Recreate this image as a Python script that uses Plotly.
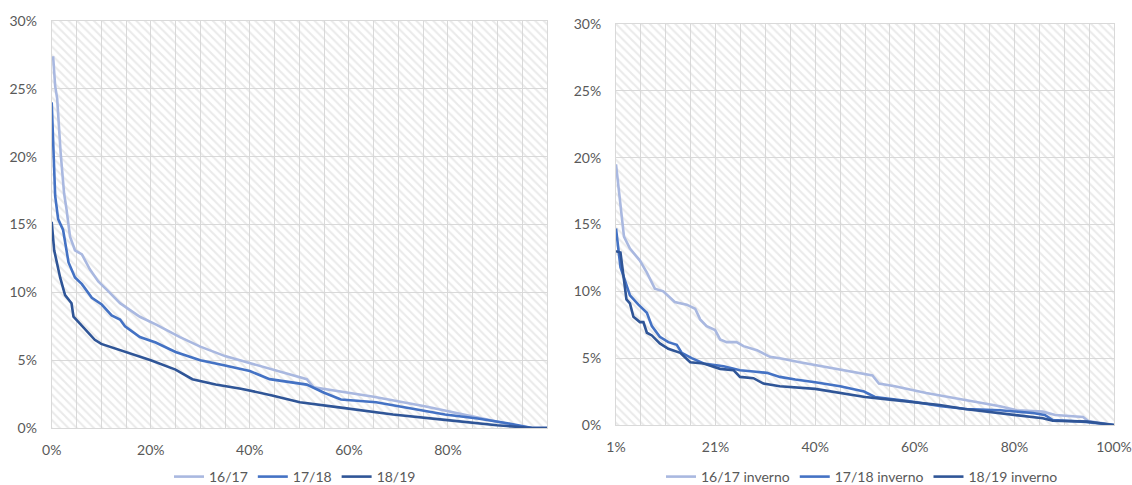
import plotly.graph_objects as go

# ---- Left panel: annual duration curves (x = share of time, y = value, both in %) ----
left_x_1617 = [0, 0.3, 0.7, 1.1, 1.8, 2.5, 3.0, 3.7, 4.7, 6.1, 7.7, 9.4, 11.1, 13.8, 17.8, 21.2,
               25.9, 30, 35, 40, 45, 51.5, 52.9, 58.4, 65, 75.3, 82.9, 88, 93.4, 97, 100]
left_y_1617 = [27.3, 27.3, 25.2, 24.3, 20.3, 17.3, 16.1, 14.1, 13.1, 12.8, 11.7, 10.8, 10.2, 9.2, 8.2, 7.6,
               6.7, 6.0, 5.3, 4.8, 4.3, 3.6, 3.0, 2.7, 2.3, 1.6, 1.0, 0.6, 0.2, 0, 0]

left_x_1718 = [0, 0.3, 0.7, 1.3, 2.3, 3.4, 4.7, 6.1, 8.1, 10.1, 12.1, 13.8, 14.8, 17.8, 21, 25, 30, 35,
               40, 44, 51.5, 55, 58.4, 65.5, 72, 79.4, 86, 92, 97, 100]
left_y_1718 = [24.0, 20.8, 17.1, 15.4, 14.6, 12.2, 11.1, 10.6, 9.6, 9.1, 8.3, 8.0, 7.5, 6.7, 6.3, 5.6, 5.0, 4.6,
               4.2, 3.6, 3.2, 2.6, 2.1, 1.9, 1.5, 1.0, 0.7, 0.35, 0, 0]

left_x_1819 = [0, 0.5, 1.7, 2.7, 4.0, 4.4, 5.7, 7.4, 8.7, 10, 12.5, 15, 20, 25, 28.4, 33.1, 38.2, 44.5,
               50.1, 58.4, 68.9, 79.4, 89.9, 97, 100]
left_y_1819 = [15.2, 13.1, 11.1, 9.8, 9.2, 8.2, 7.7, 7.0, 6.5, 6.2, 5.9, 5.6, 5.0, 4.3, 3.6, 3.2, 2.9, 2.4,
               1.9, 1.5, 1.0, 0.6, 0.2, 0, 0]

left_names = ["16/17", "17/18", "18/19"]
left_tickvals = [0, 20, 40, 60, 80]
left_ticktext = ["0%", "20%", "40%", "60%", "80%"]

# ---- Right panel: winter duration curves ----
right_x_1617 = [0, 0.9, 1.6, 2.8, 4.8, 6.2, 7.8, 9.5, 11.8, 14.2, 15.9, 16.9, 18.2, 19.9, 20.9, 22.2,
                24.2, 25.6, 28.3, 30.9, 32.9, 36.9, 42.9, 47.5, 51.5, 52.8, 56, 62.3, 69.7, 77.1, 80.5,
                85.7, 88.2, 93.8, 94.8, 100]
right_y_1617 = [19.5, 16.3, 14.1, 13.2, 12.3, 11.4, 10.2, 10.0, 9.2, 9.0, 8.7, 7.9, 7.4, 7.1, 6.4, 6.2,
                6.2, 5.9, 5.6, 5.1, 5.0, 4.7, 4.3, 4.0, 3.7, 3.1, 2.9, 2.4, 1.9, 1.4, 1.1,
                1.0, 0.75, 0.6, 0.3, 0]

right_x_1718 = [0, 0.9, 2.8, 4.5, 6.2, 7.2, 8.8, 10.5, 12.2, 13.2, 15.2, 17.6, 21.6, 24.9, 27.6, 30.3,
                32.9, 36, 40, 45, 49.8, 52, 58.6, 65.3, 70.4, 77.1, 83.7, 86.1, 87.7, 93.8, 100]
right_y_1718 = [14.7, 11.8, 9.7, 9.0, 8.4, 7.4, 6.6, 6.2, 6.0, 5.4, 5.0, 4.6, 4.4, 4.1, 4.0, 3.9,
                3.6, 3.4, 3.2, 2.9, 2.5, 2.1, 1.8, 1.4, 1.2, 1.1, 0.9, 0.75, 0.37, 0.25, 0]

right_x_1819 = [0, 0.9, 2.1, 2.8, 3.5, 4.8, 5.5, 6.2, 7.2, 8.8, 10.5, 12.9, 14.9, 17.6, 20.9, 23.6,
                24.9, 27.6, 29.6, 32.9, 40, 45, 50, 55, 60, 65, 70, 77.1, 79.7, 85.7, 87.7, 94.6, 100]
right_y_1819 = [13.0, 12.9, 9.4, 9.1, 8.1, 7.7, 7.7, 6.9, 6.7, 6.1, 5.7, 5.4, 4.7, 4.6, 4.2, 4.1,
                3.6, 3.5, 3.1, 2.9, 2.7, 2.4, 2.1, 1.9, 1.7, 1.5, 1.2, 0.9, 0.75, 0.5, 0.32, 0.25, 0]

right_names = ["16/17 inverno", "17/18 inverno", "18/19 inverno"]
right_tickvals = [0, 20, 40, 60, 80, 100]
right_ticktext = ["1%", "21%", "40%", "60%", "80%", "100%"]

y_tickvals = [0, 5, 10, 15, 20, 25, 30]
y_ticktext = ["0%", "5%", "10%", "15%", "20%", "25%", "30%"]

colors = ["#A9B8E0", "#4472C4", "#2F5597"]
grid_color = "#D9D9D9"
text_color = "#595959"
font_family = "Lato, 'Open Sans', sans-serif"

X_MAX, Y_MAX = 100, 30

fig = go.Figure()


def add_hatch(xref, yref):
    # diagonal hatched plot-area background
    fig.add_trace(go.Scatter(
        x=[0, X_MAX, X_MAX, 0, 0], y=[0, 0, Y_MAX, Y_MAX, 0],
        xaxis=xref, yaxis=yref, mode="none", fill="toself",
        fillcolor="rgba(0,0,0,0)",
        fillpattern=dict(shape="\\", fgcolor="#D6D6D6", bgcolor="rgba(0,0,0,0)",
                         size=6, solidity=0.35, fillmode="overlay"),
        showlegend=False, hoverinfo="skip"))


add_hatch("x", "y")
add_hatch("x2", "y2")

for name, xs, ys, c in zip(left_names,
                           [left_x_1617, left_x_1718, left_x_1819],
                           [left_y_1617, left_y_1718, left_y_1819], colors):
    fig.add_trace(go.Scatter(x=xs, y=ys, name=name, mode="lines",
                             line=dict(color=c, width=2.6), xaxis="x", yaxis="y",
                             legend="legend"))

for name, xs, ys, c in zip(right_names,
                           [right_x_1617, right_x_1718, right_x_1819],
                           [right_y_1617, right_y_1718, right_y_1819], colors):
    fig.add_trace(go.Scatter(x=xs, y=ys, name=name, mode="lines",
                             line=dict(color=c, width=2.6), xaxis="x2", yaxis="y2",
                             legend="legend2"))

W, H = 1132, 485
L_X0, L_X1 = 51.7, 547
R_X0, R_X1 = 616, 1114
L_Y0, L_Y1 = 428, 21
R_Y0, R_Y1 = 425, 24


def xdom(a, b):
    return [a / W, b / W]


def ydom(bottom, top):
    return [1 - bottom / H, 1 - top / H]


common_x = dict(range=[0, X_MAX], showgrid=True, gridcolor=grid_color, gridwidth=1,
                zeroline=False, showline=True, linecolor=grid_color, linewidth=1, mirror=True,
                ticks="outside", ticklen=9, tickcolor="rgba(0,0,0,0)", automargin=False,
                minor=dict(dtick=5, showgrid=True, gridcolor=grid_color, gridwidth=1),
                tickfont=dict(family=font_family, size=14, color=text_color), fixedrange=True)
common_y = dict(range=[0, Y_MAX], tickvals=y_tickvals, ticktext=y_ticktext, showgrid=True,
                gridcolor=grid_color, gridwidth=1, zeroline=False, showline=True,
                linecolor=grid_color, linewidth=1, mirror=True, automargin=False,
                ticks="outside", ticklen=11, tickcolor="rgba(0,0,0,0)",
                tickfont=dict(family=font_family, size=14, color=text_color), fixedrange=True)

legend_common = dict(orientation="h", xanchor="center", yanchor="middle", y=1 - 477 / H,
                     font=dict(family=font_family, size=14, color=text_color),
                     bgcolor="rgba(0,0,0,0)", itemwidth=30)

fig.update_layout(
    width=W, height=H,
    margin=dict(l=0, r=0, t=0, b=0, autoexpand=False),
    paper_bgcolor="white", plot_bgcolor="white",
    xaxis=dict(common_x, domain=xdom(L_X0, L_X1), tickvals=left_tickvals, ticktext=left_ticktext,
               anchor="y"),
    yaxis=dict(common_y, domain=ydom(L_Y0, L_Y1), anchor="x"),
    xaxis2=dict(common_x, domain=xdom(R_X0, R_X1), tickvals=right_tickvals, ticktext=right_ticktext,
                anchor="y2"),
    yaxis2=dict(common_y, domain=ydom(R_Y0, R_Y1), anchor="x2"),
    legend=dict(legend_common, x=295 / W),
    legend2=dict(legend_common, x=862 / W),
    showlegend=True,
)

fig.write_html("out.html")
